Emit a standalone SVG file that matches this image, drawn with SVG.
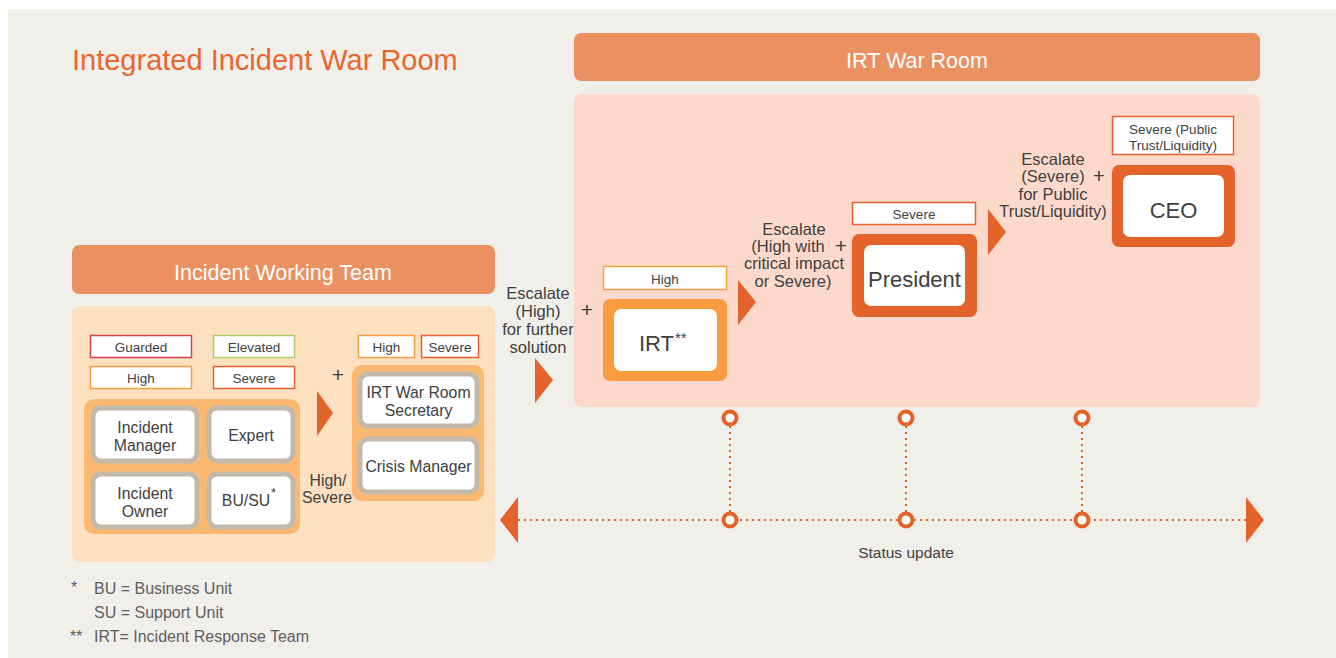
<svg xmlns="http://www.w3.org/2000/svg" width="1336" height="658" viewBox="0 0 1336 658">
<style>
text{font-family:"Liberation Sans",Arial,sans-serif;fill:#404040}
.hdr{fill:#eb9060}
.hdrt{fill:#fff;font-size:21.5px;text-anchor:middle}
.lbl{fill:#fff;stroke-width:1.5}
.lt{font-size:13.5px;text-anchor:middle}
.gbox{fill:#fff;stroke:#c2b9ab;stroke-width:5}
.bt{font-size:15.8px;text-anchor:middle}
.mt{font-size:16.5px;text-anchor:middle}
.plus{font-size:21px;text-anchor:middle}
.tri{fill:#e4632a}
.dot{stroke:#e4632a;stroke-width:2;stroke-dasharray:2 4;fill:none}
.ring{fill:#fff;stroke:#e4632a;stroke-width:4}
.fn{font-size:16px;fill:#606060}
</style>
<rect x="0" y="0" width="1336" height="658" fill="#fff"/>
<rect x="8" y="9" width="1328" height="649" fill="#f1efea"/>
<text x="72" y="70" style="font-size:29px;fill:#e8672e">Integrated Incident War Room</text>

<g id="irt-war-room">
<rect class="hdr" x="574" y="33" width="686" height="48" rx="7"/>
<text class="hdrt" x="917" y="68">IRT War Room</text>
<rect x="574" y="94" width="686" height="313" rx="8" fill="#fdd9cb"/>
</g>

<g id="incident-working-team">
<rect class="hdr" x="72" y="245" width="423" height="49" rx="7"/>
<text class="hdrt" x="283" y="280">Incident Working Team</text>
<rect x="72" y="306" width="423" height="256" rx="8" fill="#fde0c0"/>
</g>

<g id="left-labels">
<rect class="lbl" x="90.5" y="335.5" width="101" height="22" stroke="#d0404f"/>
<text class="lt" x="141" y="352">Guarded</text>
<rect class="lbl" x="213.5" y="335.5" width="81" height="22" stroke="#a8d060"/>
<text class="lt" x="254" y="352">Elevated</text>
<rect class="lbl" x="90.5" y="366.5" width="101" height="22" stroke="#f5a040"/>
<text class="lt" x="141" y="383">High</text>
<rect class="lbl" x="213.5" y="366.5" width="81" height="22" stroke="#e86030"/>
<text class="lt" x="254" y="383">Severe</text>
</g>

<g id="left-team">
<rect x="84" y="399" width="216" height="135" rx="10" fill="#fbb870"/>
<rect class="gbox" x="93" y="408" width="104" height="53" rx="8"/>
<text class="bt" x="145" y="433">Incident</text>
<text class="bt" x="145" y="451">Manager</text>
<rect class="gbox" x="209" y="408" width="84" height="53" rx="8"/>
<text class="bt" x="251" y="441">Expert</text>
<rect class="gbox" x="93" y="474" width="104" height="53" rx="8"/>
<text class="bt" x="145" y="499">Incident</text>
<text class="bt" x="145" y="517">Owner</text>
<rect class="gbox" x="209" y="474" width="84" height="53" rx="8"/>
<text class="bt" x="246" y="506">BU/SU</text>
<text x="271" y="497" style="font-size:13px">*</text>
</g>

<g id="mid-left">
<text class="plus" x="338" y="382">+</text>
<text class="bt" x="328" y="486">High/</text>
<text class="bt" x="327" y="503">Severe</text>
<rect class="lbl" x="358.5" y="335.5" width="56" height="22" stroke="#f5a040"/>
<text class="lt" x="386.5" y="352">High</text>
<rect class="lbl" x="421.5" y="335.5" width="57" height="22" stroke="#e86030"/>
<text class="lt" x="450" y="352">Severe</text>
</g>

<g id="irt-secretariat">
<rect x="352" y="365" width="132" height="136" rx="10" fill="#fbb870"/>
<rect class="gbox" x="360" y="374" width="117" height="52" rx="8"/>
<text class="bt" x="418.5" y="398">IRT War Room</text>
<text class="bt" x="418.5" y="416">Secretary</text>
<rect class="gbox" x="360" y="439" width="117" height="53" rx="8"/>
<text class="bt" x="418.5" y="472">Crisis Manager</text>
</g>

<g id="irt">
<text class="mt" x="538" y="299">Escalate</text>
<text class="mt" x="538" y="317">(High)</text>
<text class="mt" x="538" y="335">for further</text>
<text class="mt" x="538" y="353">solution</text>
<text class="plus" x="587" y="317">+</text>
<rect class="lbl" x="603.5" y="266.5" width="123" height="23" stroke="#f5a040"/>
<text class="lt" x="665" y="284">High</text>
<rect x="603" y="299" width="124" height="82" rx="7" fill="#f99c40"/>
<rect x="614" y="309" width="103" height="62" rx="7" fill="#fff"/>
<text x="639" y="351" style="font-size:22px">IRT</text>
<text x="675" y="343" style="font-size:15px">**</text>
</g>

<g id="president">
<text class="mt" x="794" y="235">Escalate</text>
<text class="mt" x="788" y="252">(High with</text>
<text class="mt" x="794" y="269">critical impact</text>
<text class="mt" x="793" y="287">or Severe)</text>
<text class="plus" x="841" y="253">+</text>
<rect class="lbl" x="852.5" y="202.5" width="123" height="22" stroke="#e86030"/>
<text class="lt" x="914" y="219">Severe</text>
<rect x="852" y="234" width="125" height="83" rx="7" fill="#e4632a"/>
<rect x="864" y="245" width="101" height="61" rx="7" fill="#fff"/>
<text x="914.5" y="287" style="font-size:22px;text-anchor:middle">President</text>
</g>

<g id="ceo">
<text class="mt" x="1053" y="165">Escalate</text>
<text class="mt" x="1053" y="182">(Severe)</text>
<text class="mt" x="1053" y="200">for Public</text>
<text class="mt" x="1053" y="217">Trust/Liquidity)</text>
<text class="plus" x="1099" y="183">+</text>
<rect class="lbl" x="1112.5" y="116.5" width="121" height="38" stroke="#e86030"/>
<text class="lt" x="1173" y="134">Severe (Public</text>
<text class="lt" x="1173" y="150">Trust/Liquidity)</text>
<rect x="1112" y="165" width="123" height="82" rx="7" fill="#e4632a"/>
<rect x="1123" y="175" width="101" height="62" rx="7" fill="#fff"/>
<text x="1173.5" y="218" style="font-size:22px;text-anchor:middle">CEO</text>
</g>

<g id="connectors">
<polygon class="tri" points="317,391 333,413 317,436"/>
<polygon class="tri" points="535,358 553,380 535,403"/>
<polygon class="tri" points="738,280 756,302 738,325"/>
<polygon class="tri" points="988,209 1006,232 988,255"/>
<line class="dot" x1="518" y1="520" x2="1246" y2="520"/>
<line class="dot" x1="730" y1="426" x2="730" y2="512"/>
<line class="dot" x1="906" y1="426" x2="906" y2="512"/>
<line class="dot" x1="1082" y1="426" x2="1082" y2="512"/>
<polygon class="tri" points="500,520 518,497 518,543"/>
<polygon class="tri" points="1264,520 1246,497 1246,543"/>
<circle class="ring" cx="730" cy="418" r="6.5"/>
<circle class="ring" cx="906" cy="418" r="6.5"/>
<circle class="ring" cx="1082" cy="418" r="6.5"/>
<circle class="ring" cx="730" cy="520" r="6.5"/>
<circle class="ring" cx="906" cy="520" r="6.5"/>
<circle class="ring" cx="1082" cy="520" r="6.5"/>
</g>
<text x="906" y="558" style="font-size:15.5px;text-anchor:middle">Status update</text>

<g id="footnotes">
<text class="fn" x="71" y="593">*</text>
<text class="fn" x="94" y="594">BU = Business Unit</text>
<text class="fn" x="94" y="618">SU = Support Unit</text>
<text class="fn" x="70" y="642">**</text>
<text class="fn" x="94" y="642">IRT= Incident Response Team</text>
</g>
</svg>
